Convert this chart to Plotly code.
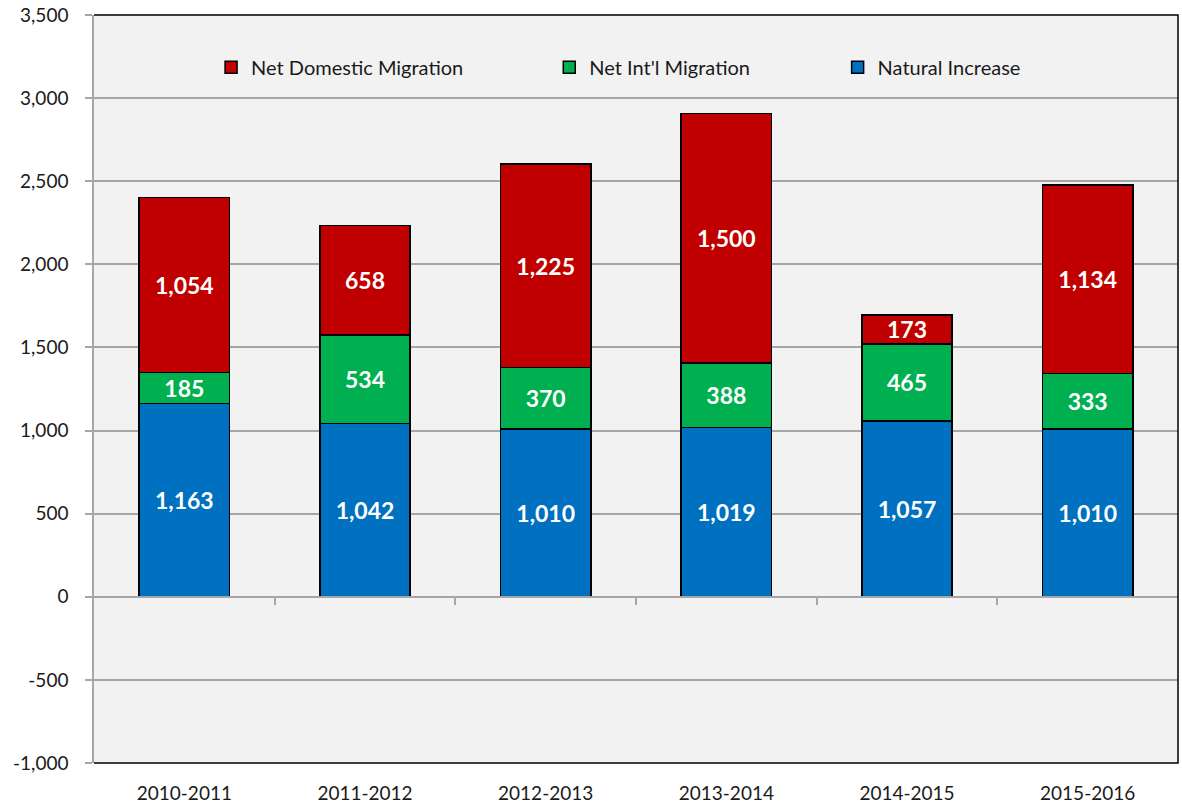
import plotly.graph_objects as go

categories = ["2010-2011", "2011-2012", "2012-2013", "2013-2014", "2014-2015", "2015-2016"]
natural_increase = [1163, 1042, 1010, 1019, 1057, 1010]
net_intl_migration = [185, 534, 370, 388, 465, 333]
net_domestic_migration = [1054, 658, 1225, 1500, 173, 1134]

y_tick_vals = [-1000, -500, 0, 500, 1000, 1500, 2000, 2500, 3000, 3500]
y_tick_text = ["-1,000", "-500", "0", "500", "1,000", "1,500", "2,000", "2,500", "3,000", "3,500"]

FONT = "Lato"
series = [
    ("Natural Increase", natural_increase, "#0070C0", "legend3"),
    ("Net Int'l Migration", net_intl_migration, "#00B050", "legend2"),
    ("Net Domestic Migration", net_domestic_migration, "#C00000", "legend"),
]

fig = go.Figure()
for name, vals, color, leg in series:
    fig.add_trace(go.Bar(
        x=categories, y=vals, name=name,
        marker=dict(color=color, line=dict(color="#000000", width=1.5)),
        text=[f"{v:,}" for v in vals],
        textposition="inside", insidetextanchor="middle",
        constraintext="none",
        textfont=dict(family=FONT, size=23, color="white", weight="bold"),
        width=0.5, legend=leg,
    ))

# invisible trace for secondary x axis used for boundary ticks at zero line
fig.add_trace(go.Scatter(x=[-0.5, 5.5], y=[0, 0], xaxis="x2", mode="lines",
                         line=dict(width=0), showlegend=False, hoverinfo="skip"))

legend_common = dict(orientation="h", yanchor="middle", y=0.93, xanchor="left",
                     bgcolor="rgba(0,0,0,0)", font=dict(family=FONT, size=20, color="#1a1a1a"),
                     itemwidth=30)
fig.update_layout(
    width=1182, height=805,
    margin=dict(l=94, r=4, t=15, b=42),
    paper_bgcolor="white", plot_bgcolor="#F2F2F2",
    barmode="stack", bargap=0.5,
    legend=dict(x=0.108, **legend_common),
    legend2=dict(x=0.420, **legend_common),
    legend3=dict(x=0.686, **legend_common),
    xaxis=dict(
        type="category", showgrid=False, ticks="", showline=False, automargin=False,
        tickfont=dict(family=FONT, size=19, color="#1a1a1a"), range=[-0.5, 5.5],
        ticklabelstandoff=17,
    ),
    xaxis2=dict(
        overlaying="x", anchor="free", position=1000/4500, range=[-0.5, 5.5],
        tickvals=[0.5, 1.5, 2.5, 3.5, 4.5], ticks="outside", ticklen=7,
        tickcolor="#a6a6a6", tickwidth=1.5, showticklabels=False, automargin=False,
        showline=True, linecolor="#a6a6a6", linewidth=1.5, showgrid=False, zeroline=False,
    ),
    yaxis=dict(
        range=[-1000, 3500], tickvals=y_tick_vals, ticktext=y_tick_text, automargin=False,
        showgrid=True, gridcolor="#a6a6a6", gridwidth=1.5,
        zeroline=True, zerolinecolor="#a6a6a6", zerolinewidth=1.5,
        showline=True, linecolor="#a6a6a6", linewidth=1.5,
        ticks="outside", ticklen=7, tickcolor="#a6a6a6", tickwidth=1.5,
        tickfont=dict(family=FONT, size=19, color="#1a1a1a"),
        ticklabelstandoff=13,
    ),
    shapes=[dict(type="path", xref="paper", yref="paper",
                 path="M 0 1 L 1 1 L 1 0 L 0 0",
                 line=dict(color="#000000", width=1.5), layer="above")],
)

fig.write_html(
    "out.html",
    config={"responsive": False, "displayModeBar": False},
    post_script="document.body.style.margin='0';document.body.style.overflow='hidden';",
)
